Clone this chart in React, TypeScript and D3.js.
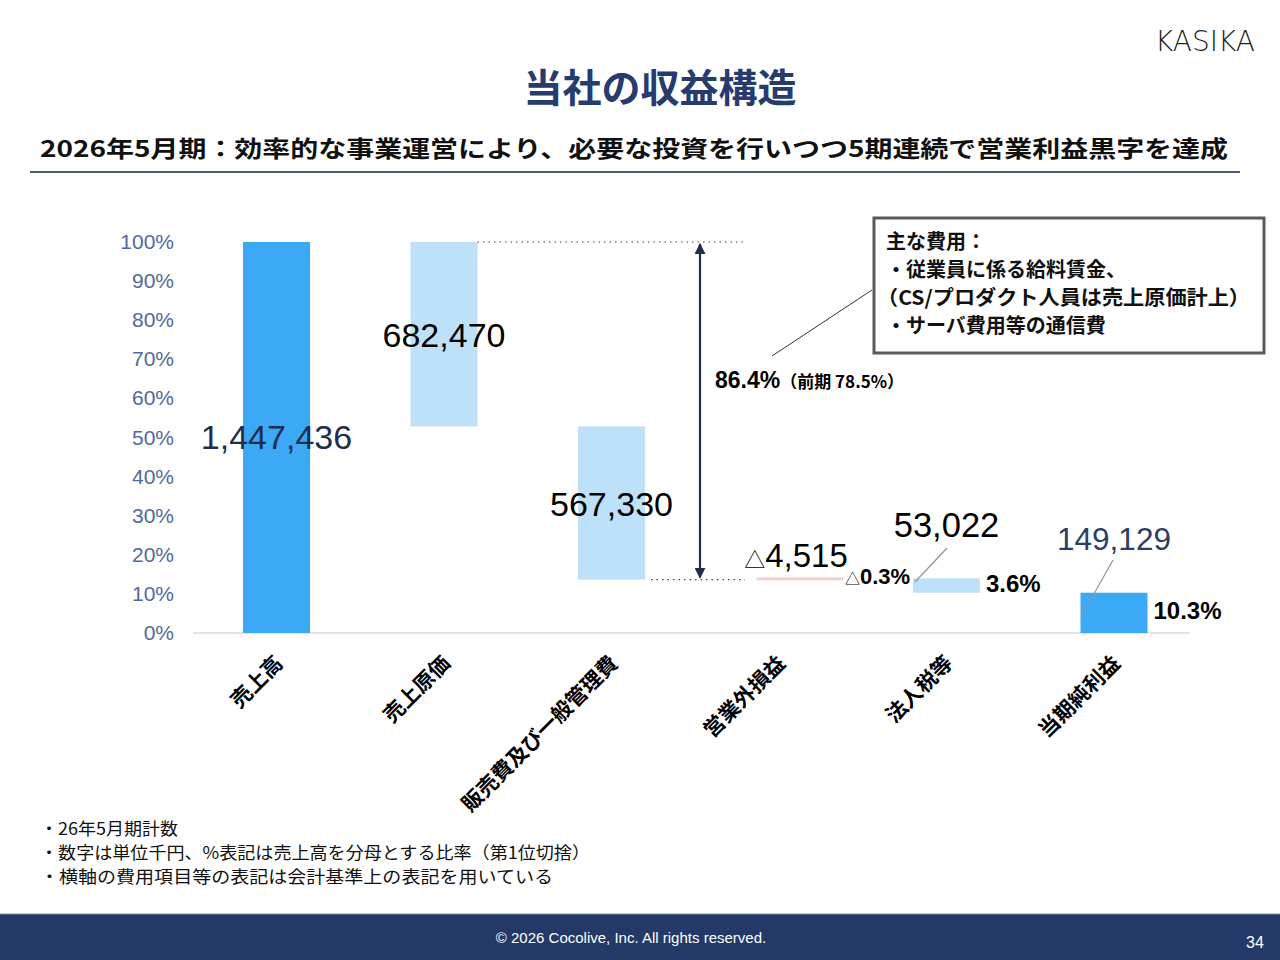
import React from "react";
import * as d3 from "d3";

const categories = ["売上高", "売上原価", "販売費及び一般管理費", "営業外損益", "法人税等", "当期純利益"];
// thousand yen; negative = cost, totals flagged below
const values = [1447436, -682470, -567330, 4515, -53022, 149129];
const isTotal = [true, false, false, false, false, true];
const valueLabels = ["1,447,436", "682,470", "567,330", "△4,515", "53,022", "149,129"];
const ratioLabels = ["", "", "", "△0.3%", "3.6%", "10.3%"];
const yTicks = [0, 0.1, 0.2, 0.3, 0.4, 0.5, 0.6, 0.7, 0.8, 0.9, 1.0];
const notes = [
  "・26年5月期計数",
  "・数字は単位千円、%表記は売上高を分母とする比率（第1位切捨）",
  "・横軸の費用項目等の表記は会計基準上の表記を用いている",
];
const noteWidths = [138, 550, 513];
const calloutLines = ["主な費用：", "・従業員に係る給料賃金、", "（CS/プロダクト人員は売上原価計上）", "・サーバ費用等の通信費"];

const NUM = "'Liberation Sans', Arial, 'Noto Sans CJK JP', sans-serif";
const JP = "'Noto Sans CJK JP', sans-serif";

export default function App() {
  const revenue = values[0];
  const x = d3.scaleBand<string>().domain(categories).range([192.75, 1197.75]).paddingInner(0.6).paddingOuter(0.3);
  const y = d3.scaleLinear().domain([0, revenue]).range([633, 242]);

  // waterfall steps
  let running = 0;
  const bars = categories.map((c, i) => {
    let lo: number, hi: number;
    if (isTotal[i]) {
      lo = 0;
      hi = values[i];
      running = values[i];
    } else {
      const next = running + values[i];
      lo = Math.min(running, next);
      hi = Math.max(running, next);
      running = next;
    }
    return { c, i, lo, hi };
  });

  const bw = x.bandwidth();
  const cx = (c: string) => (x(c) as number) + bw / 2;
  const fill = (i: number) => (isTotal[i] ? "#3ba9f5" : values[i] > 0 ? "#f6cfd0" : "#bde1f8");

  const sgaBottom = y(bars[2].lo);
  const labelPos = [
    { dx: 0, y: 449, size: 34, color: "#1f2d4e" },
    { dx: 0, y: 347, size: 34, color: "#000" },
    { dx: 0, y: 516, size: 34, color: "#000" },
    { dx: 17, y: 567, size: 33, color: "#000" },
    { dx: 0, y: 537, size: 34.5, color: "#000" },
    { dx: 0, y: 550, size: 31.5, color: "#2a3f66" },
  ];

  return (
    <div style={{ position: "absolute", left: 0, top: 0 }}>
      <svg width={1280} height={960} style={{ display: "block", background: "#fff" }}>
        <defs>
          <marker id="arr" viewBox="0 0 10 10" refX="9" refY="5" markerWidth="5" markerHeight="5" orient="auto-start-reverse">
            <path d="M0,0 L10,5 L0,10 z" fill="#1f2d4e" />
          </marker>
        </defs>

        {/* header */}
        <text x={1205} y={51} textAnchor="middle" fontFamily="'DejaVu Sans', sans-serif" fontWeight={200} fontSize={29} fill="#222" textLength={100} lengthAdjust="spacingAndGlyphs">
          KASIKA
        </text>
        <text x={660} y={102} textAnchor="middle" fontFamily={JP} fontWeight={700} fontSize={39} fill="#263b6e">
          当社の収益構造
        </text>
        <text x={40} y={157} fontFamily={JP} fontWeight={700} fontSize={23} fill="#111" textLength={1188} lengthAdjust="spacingAndGlyphs">
          2026年5月期：効率的な事業運営により、必要な投資を行いつつ5期連続で営業利益黒字を達成
        </text>
        <line x1={30} x2={1240} y1={172} y2={172} stroke="#4a5a78" strokeWidth={2} />

        {/* y axis */}
        {yTicks.map((t) => (
          <text key={t} x={174} y={y(t * revenue) + 7} textAnchor="end" fontFamily={NUM} fontSize={21} fill="#4f6a9e">
            {d3.format(".0%")(t)}
          </text>
        ))}
        <line x1={193} x2={1190} y1={y(0)} y2={y(0)} stroke="#d6dbe3" strokeWidth={1.5} />

        {/* dotted guides */}
        <line x1={(x(categories[1]) as number) + bw} x2={747} y1={y(revenue)} y2={y(revenue)} stroke="#444" strokeWidth={1.2} strokeDasharray="1.5 4" />
        <line x1={(x(categories[2]) as number) + bw + 6} x2={745} y1={sgaBottom} y2={sgaBottom} stroke="#444" strokeWidth={1.2} strokeDasharray="1.5 4" />

        {/* bars */}
        {bars.map((b) => {
          const off = b.i === 3 ? 11 : 0;
          const w = b.i === 3 ? bw + 20 : bw;
          const h = Math.max(y(b.lo) - y(b.hi), b.i === 3 ? 3 : 0);
          return <rect key={b.c} x={(x(b.c) as number) + off} y={y(b.hi) - (b.i === 3 ? 1 : 0)} width={w} height={h} fill={fill(b.i)} />;
        })}

        {/* value labels */}
        {bars.map((b) => (
          <text key={"v" + b.c} x={cx(b.c) + labelPos[b.i].dx} y={labelPos[b.i].y} textAnchor="middle" fontFamily={NUM} fontSize={labelPos[b.i].size} fill={labelPos[b.i].color}>
            {valueLabels[b.i].startsWith("△") ? (
              <>
                <tspan fontSize={21}>△</tspan>
                {valueLabels[b.i].slice(1)}
              </>
            ) : (
              valueLabels[b.i]
            )}
          </text>
        ))}

        {/* ratio labels */}
        {bars.map((b) =>
          ratioLabels[b.i] ? (
            <text
              key={"r" + b.c}
              x={b.i === 3 ? 845 : (x(b.c) as number) + bw + 6}
              y={b.i === 3 ? 584 : b.i === 4 ? 592 : 619}
              fontFamily={NUM}
              fontWeight={700}
              fontSize={b.i === 3 ? 22 : 24}
              fill="#000"
            >
              {ratioLabels[b.i].startsWith("△") ? (
                <>
                  <tspan fontSize={15} fontWeight={400}>△</tspan>
                  {ratioLabels[b.i].slice(1)}
                </>
              ) : (
                ratioLabels[b.i]
              )}
            </text>
          ) : null
        )}

        {/* leader lines */}
        <line x1={947} y1={548} x2={915} y2={582} stroke="#8a95a8" strokeWidth={1.2} />
        <line x1={1113} y1={560} x2={1081} y2={617} stroke="#8a95a8" strokeWidth={1.2} />

        {/* operating cost ratio arrow */}
        <line x1={700} x2={700} y1={y(revenue) + 2} y2={sgaBottom - 2} stroke="#1f2d4e" strokeWidth={2.2} markerStart="url(#arr)" markerEnd="url(#arr)" />
        <text x={715} y={388} fontFamily={NUM} fontWeight={700} fontSize={23} fill="#000">
          86.4%
          <tspan fontFamily={JP} fontSize={17} fontWeight={700}>（前期 78.5%）</tspan>
        </text>

        {/* callout */}
        <line x1={872} y1={290} x2={772} y2={356} stroke="#333" strokeWidth={1} />
        <rect x={874} y={218} width={390} height={135} fill="#fff" stroke="#5a5a5a" strokeWidth={3} />
        {calloutLines.map((l, i) => (
          <text key={l} x={i === 2 ? 877 : 886} y={249 + i * 28} fontFamily={JP} fontWeight={700} fontSize={20} fill="#111" textLength={i === 2 ? 373 : undefined} lengthAdjust="spacingAndGlyphs">
            {l}
          </text>
        ))}

        {/* x labels */}
        {categories.map((c) => (
          <text
            key={"x" + c}
            transform={`translate(${cx(c) - 6},${651}) rotate(-45)`}
            textAnchor="end"
            dominantBaseline="hanging"
            fontFamily={JP}
            fontWeight={700}
            fontSize={21}
            fill="#000"
          >
            {c}
          </text>
        ))}

        {/* notes */}
        {notes.map((n, i) => (
          <text key={n} x={40} y={835 + i * 24} fontFamily={JP} fontSize={17} fill="#111" textLength={noteWidths[i]} lengthAdjust="spacingAndGlyphs">
            {n}
          </text>
        ))}

        {/* footer */}
        <rect x={0} y={914} width={1280} height={46} fill="#233a68" />
        <line x1={0} x2={1280} y1={914} y2={914} stroke="#7d8aa6" strokeWidth={1} />
        <text x={631} y={943} textAnchor="middle" fontFamily={NUM} fontSize={15} fill="#fff">
          © 2026 Cocolive, Inc. All rights reserved.
        </text>
        <text x={1255} y={948} textAnchor="middle" fontFamily={NUM} fontSize={16} fill="#fff">
          34
        </text>
      </svg>
    </div>
  );
}
